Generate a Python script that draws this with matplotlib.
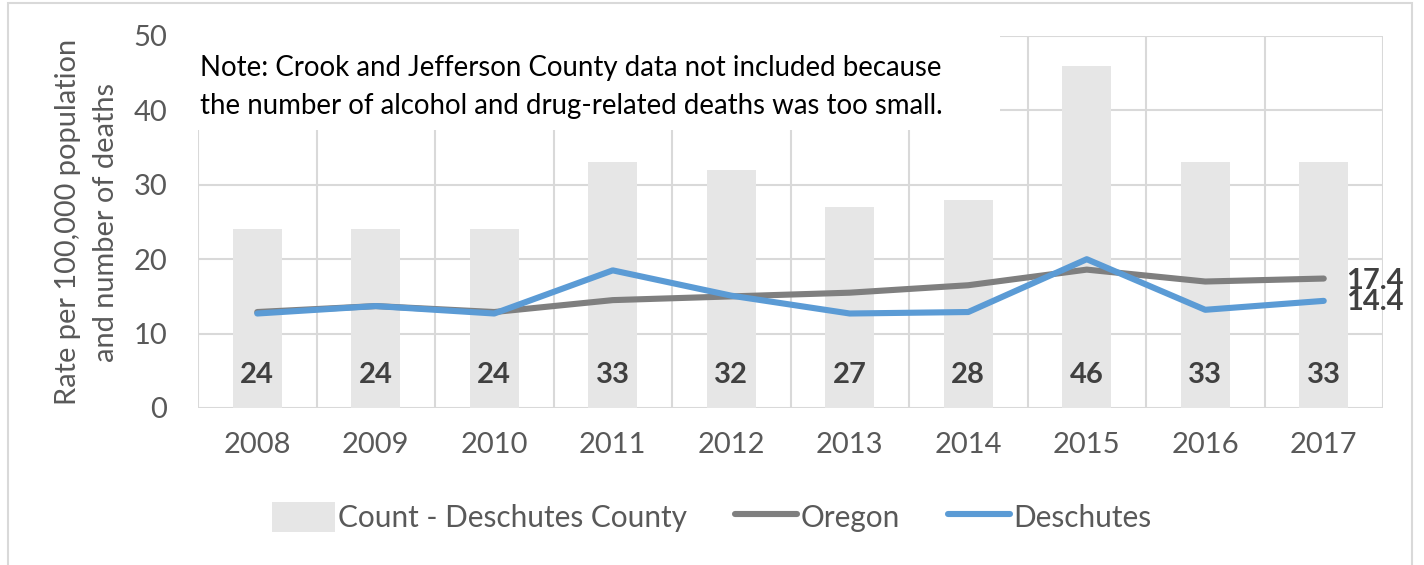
import matplotlib
matplotlib.use("Agg")
import matplotlib.pyplot as plt
from matplotlib.patches import Rectangle, Patch
from matplotlib.lines import Line2D
import numpy as np

years = ["2008", "2009", "2010", "2011", "2012", "2013", "2014", "2015", "2016", "2017"]
counts = [24, 24, 24, 33, 32, 27, 28, 46, 33, 33]
oregon = [12.9, 13.7, 12.9, 14.5, 15.0, 15.5, 16.5, 18.6, 17.0, 17.4]
deschutes = [12.7, 13.7, 12.7, 18.5, 15.1, 12.7, 12.9, 20.0, 13.2, 14.4]
yticks = [0, 10, 20, 30, 40, 50]

note = ("Note: Crook and Jefferson County data not included because\n"
        "the number of alcohol and drug-related deaths was too small.")

FONT = ["Lato", "DejaVu Sans"]
plt.rcParams["font.family"] = FONT

TICK = "#595959"
DARK = "#404040"
GRID = "#d9d9d9"
BAR = "#e6e6e6"
ORE = "#7f7f7f"
DES = "#5b9bd5"

fig = plt.figure(figsize=(14.24, 5.65), dpi=100)
ax = fig.add_axes([198/1424, 1-408/565, (1383-198)/1424, (408-36)/565])

x = np.arange(len(years))
ax.bar(x, counts, width=0.41, color=BAR, zorder=1)
ax.plot(x, oregon, color=ORE, lw=4.4, solid_capstyle="round", solid_joinstyle="round", zorder=3)
ax.plot(x, deschutes, color=DES, lw=4.4, solid_capstyle="round", solid_joinstyle="round", zorder=3.1)

for i, c in enumerate(counts):
    ax.annotate(str(c), xy=(x[i], 0), xytext=(0, 24), textcoords="offset points",
                ha="center", va="center", fontsize=21, fontweight="bold", color=DARK, zorder=4)

ax.annotate(f"{oregon[-1]:.1f}", xy=(x[-1], oregon[-1]), xytext=(16, -1.5), textcoords="offset points",
            ha="left", va="center", fontsize=21, fontweight="bold", color=DARK, zorder=4)
ax.annotate(f"{deschutes[-1]:.1f}", xy=(x[-1], deschutes[-1]), xytext=(16, -0.5), textcoords="offset points",
            ha="left", va="center", fontsize=21, fontweight="bold", color=DARK, zorder=4)

ax.set_xlim(-0.5, len(years) - 0.5)
ax.set_ylim(0, 50)
ax.set_yticks(yticks)
ax.set_xticks(x)
ax.set_xticklabels(years)
ax.set_xticks(np.arange(-0.5, len(years), 1), minor=True)
ax.tick_params(axis="both", which="both", length=0, labelsize=21, labelcolor=TICK)
ax.tick_params(axis="x", which="major", pad=17)
ax.tick_params(axis="y", pad=22)
ax.set_axisbelow(True)
ax.grid(axis="y", which="major", color=GRID, lw=1.5)
ax.grid(axis="x", which="minor", color=GRID, lw=1.5)
for s in ax.spines.values():
    s.set_visible(False)

# white note box covering top-left of plot area
ax.add_patch(Rectangle((-0.01, 0.747), 0.687, 0.27, transform=ax.transAxes,
                       facecolor="white", edgecolor="none", zorder=2.6, clip_on=False))
ax.text(0.002, 0.863, note, transform=ax.transAxes, ha="left", va="center",
        fontsize=19.9, color="black", linespacing=1.55, zorder=5)

fig.text(87/1424, 1-222/565, "Rate per 100,000 population\nand number of deaths",
         rotation=90, ha="center", va="center", multialignment="center",
         fontsize=20.9, color=TICK, linespacing=1.55)

handles = [Patch(facecolor=BAR, edgecolor="none"),
           Line2D([], [], color=ORE, lw=4.4, solid_capstyle="round"),
           Line2D([], [], color=DES, lw=4.4, solid_capstyle="round")]
fig.legend(handles, ["Count - Deschutes County", "Oregon", "Deschutes"],
           loc="center", bbox_to_anchor=(0.5, 1-517/565), ncol=3, frameon=False,
           fontsize=21.4, labelcolor=TICK, handlelength=2.1, handleheight=1.2,
           handletextpad=0.12, columnspacing=1.6, borderaxespad=0)

fig.patches.append(Rectangle((8/1424, -0.02), (1412-8)/1424, 1.02 - 3/565,
                             transform=fig.transFigure, facecolor="none",
                             edgecolor=GRID, lw=1.5, zorder=0))

fig.savefig("out.png", dpi=100)
